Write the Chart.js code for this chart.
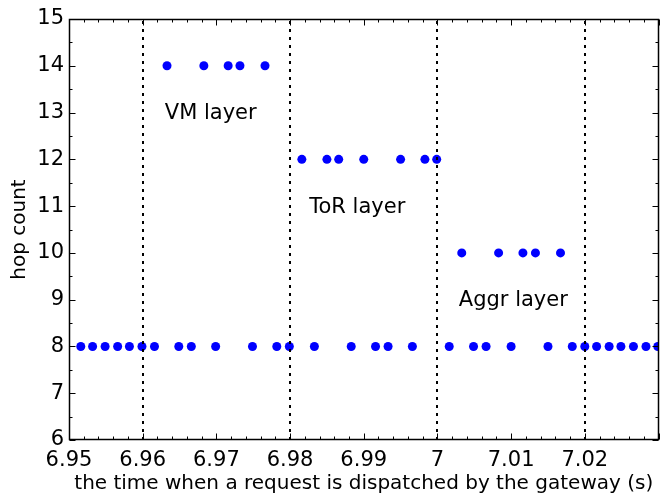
<!DOCTYPE html>
<html>
<head>
<meta charset="utf-8">
<script src="https://cdn.jsdelivr.net/npm/chart.js@4.4.0/dist/chart.umd.min.js"></script>
<style>
html,body{margin:0;padding:0;background:#fff;}
#wrap{width:663px;height:495px;}
</style>
</head>
<body>
<div id="wrap"><canvas id="c" width="663" height="495"></canvas></div>
<script>
// ---- data ----
const hop8Times = [6.9516, 6.9532, 6.9549, 6.9566, 6.9582, 6.9599, 6.9616, 6.9649, 6.9666, 6.9699,
  6.9749, 6.9782, 6.9799, 6.9833, 6.9883, 6.9916, 6.9933, 6.9966, 7.0016, 7.0049, 7.0066, 7.0100,
  7.0150, 7.0183, 7.0200, 7.0216, 7.0233, 7.0249, 7.0266, 7.0283, 7.0299];
const hop14Times = [6.9633, 6.9683, 6.9716, 6.9732, 6.9766];
const hop12Times = [6.9816, 6.9850, 6.9866, 6.9900, 6.9950, 6.9983, 6.9999];
const hop10Times = [7.0033, 7.0083, 7.0116, 7.0133, 7.0167];
const hopValues = [8, 14, 12, 10];
const layerBoundaries = [6.96, 6.98, 7.00, 7.02];
const layerLabels = ["VM layer", "ToR layer", "Aggr layer"];
const layerLabelX = [6.963, 6.9826, 7.0029];
const layerLabelY = [13, 11, 9];
const xTickLabels = ["6.95", "6.96", "6.97", "6.98", "6.99", "7", "7.01", "7.02"];
const yTickLabels = ["6", "7", "8", "9", "10", "11", "12", "13", "14", "15"];
const xTitle = "the time when a request is dispatched by the gateway (s)";
const yTitle = "hop count";

const groups = [hop8Times, hop14Times, hop12Times, hop10Times];
const points = [];
groups.forEach((g, i) => g.forEach(t => points.push({x: t, y: hopValues[i]})));

const FONT = "'DejaVu Sans', sans-serif";

const decor = {
  id: 'decor',
  afterDatasetsDraw(chart) {
    const ctx = chart.ctx, a = chart.chartArea;
    const xs = chart.scales.x, ys = chart.scales.y;
    ctx.save();
    ctx.strokeStyle = '#000'; ctx.lineWidth = 2; ctx.setLineDash([3, 5]);
    layerBoundaries.forEach(v => {
      const px = Math.round(xs.getPixelForValue(v));
      ctx.beginPath(); ctx.moveTo(px, a.bottom); ctx.lineTo(px, a.top); ctx.stroke();
    });
    ctx.setLineDash([]);
    ctx.fillStyle = '#000'; ctx.font = '21px ' + FONT;
    ctx.textAlign = 'left'; ctx.textBaseline = 'middle';
    layerLabels.forEach((s, i) => {
      ctx.fillText(s, xs.getPixelForValue(layerLabelX[i]), ys.getPixelForValue(layerLabelY[i]) + 1);
    });
    ctx.restore();
  },
  afterDraw(chart) {
    const ctx = chart.ctx, a = chart.chartArea;
    const xs = chart.scales.x, ys = chart.scales.y;
    ctx.save();
    ctx.strokeStyle = '#000'; ctx.lineWidth = 1;
    const L = Math.round(a.left) + 0.5, R = Math.round(a.right) - 0.5;
    const T = Math.round(a.top) + 0.5, B = Math.round(a.bottom) - 0.5;
    ctx.beginPath();
    for (let k = 0; k <= 40; k++) {
      const v = 6.95 + k * 0.002;
      const px = Math.round(xs.getPixelForValue(v)) + 0.5;
      const len = (k % 5 === 0) ? 6 : 3;
      ctx.moveTo(px, B); ctx.lineTo(px, B - len);
      ctx.moveTo(px, T); ctx.lineTo(px, T + len);
    }
    for (let k = 0; k <= 18; k++) {
      const v = 6 + k * 0.5;
      const py = Math.round(ys.getPixelForValue(v)) + 0.5;
      const len = (k % 2 === 0) ? 6 : 3;
      ctx.moveTo(L, py); ctx.lineTo(L + len, py);
      ctx.moveTo(R, py); ctx.lineTo(R - len, py);
    }
    ctx.stroke();
    ctx.lineWidth = 1.5;
    ctx.strokeRect(Math.round(a.left)+0.5, Math.round(a.top)+0.5, Math.round(a.right - a.left)-1, Math.round(a.bottom - a.top)-1);
    ctx.restore();
  }
};

new Chart(document.getElementById('c'), {
  type: 'scatter',
  data: {
    datasets: [{
      data: points,
      backgroundColor: '#0000ff',
      borderColor: '#0000ff',
      pointRadius: 4.5,
      pointHoverRadius: 4.5,
      borderWidth: 0
    }]
  },
  options: {
    responsive: false,
    animation: false,
    events: [],
    layout: {padding: {top: 19, right: 2, left: 0, bottom: 0}},
    plugins: {legend: {display: false}, tooltip: {enabled: false}},
    scales: {
      x: {
        type: 'linear', min: 6.95, max: 7.03,
        grid: {display: false, drawTicks: false},
        border: {display: false},
        afterFit(s) { s.height = 55; },
        afterBuildTicks(s) { s.ticks = xTickLabels.map(t => ({value: parseFloat(t)})); },
        ticks: {
          autoSkip: false, maxRotation: 0, padding: 10, color: '#000',
          font: {size: 21, family: FONT, lineHeight: 1.0},
          callback: (v, i) => xTickLabels[i]
        },
        title: {display: true, text: xTitle, color: '#000', font: {size: 20, family: FONT, lineHeight: 1.0}, padding: {top: 0, bottom: 1}}
      },
      y: {
        type: 'linear', min: 6, max: 15,
        grid: {display: false, drawTicks: false},
        border: {display: false},
        afterFit(s) { s.width = 69; },
        afterBuildTicks(s) { s.ticks = yTickLabels.map(t => ({value: parseFloat(t)})); },
        ticks: {
          autoSkip: false, padding: 5, color: '#000',
          font: {size: 21, family: FONT},
          callback: (v, i) => yTickLabels[i]
        },
        title: {display: true, text: yTitle, color: '#000', font: {size: 20, family: FONT, lineHeight: 1.0}, padding: {top: 10, bottom: 0}}
      }
    }
  },
  plugins: [decor]
});
</script>
</body>
</html>
